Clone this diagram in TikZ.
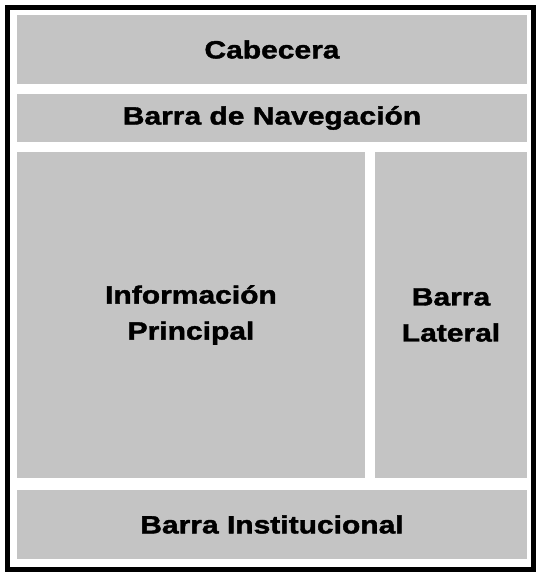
\documentclass[tikz,border=0pt]{standalone}
\usepackage{fontspec}
\newfontfamily\areafont[FakeStretch=1.2,FakeBold=1.6]{Liberation Sans Bold}
\usetikzlibrary{positioning}
\definecolor{areagrey}{RGB}{196,196,196}
\tikzset{
  area/.style={fill=areagrey,inner sep=0pt,outer sep=0pt,align=center,
               font=\areafont\fontsize{25}{36}\selectfont,text=black},
  frame/.style={draw=black,line width=5pt},
}
\begin{document}
\begin{tikzpicture}[x=1pt,y=-1pt,node distance=10pt]
\useasboundingbox (0,0) rectangle (539,573);

\draw[frame] (7.5,7.5) rectangle (533.5,569.5);

\node[area,anchor=north west,minimum width=510pt,minimum height=69pt] (cab) at (17,15) {Cabecera};
\node[area,below=of cab,minimum width=510pt,minimum height=48pt] (nav) {Barra de Navegación};
\node[area,below=of nav.south west,anchor=north west,minimum width=348pt,minimum height=326pt] (info) {Información\\Principal};
\node[area,right=of info,minimum width=152pt,minimum height=326pt] (lat) {Barra\\Lateral};
\node[area,below=12pt of info.south west,anchor=north west,minimum width=510pt,minimum height=69pt] (inst) {Barra Institucional};

\end{tikzpicture}
\end{document}
